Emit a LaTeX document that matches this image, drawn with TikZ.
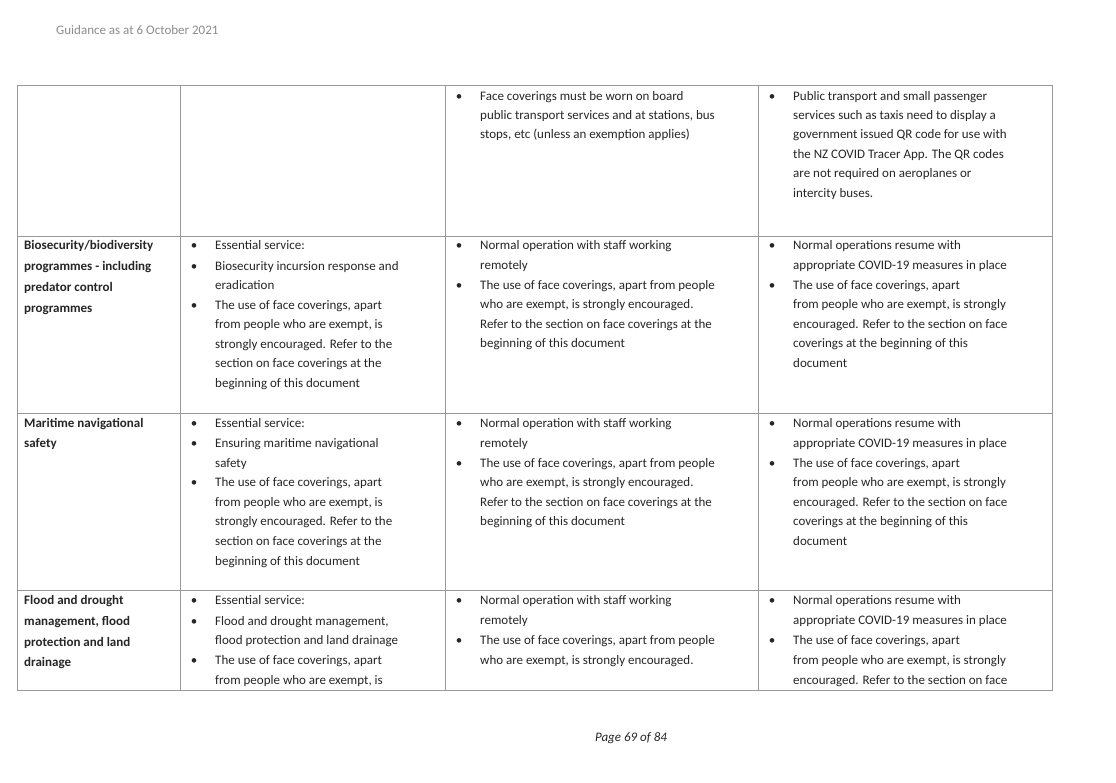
\documentclass[tikz,border=0pt]{standalone}
\usepackage{fontspec}
\setmainfont{Carlito}
\newcommand{\Lx}[3]{\node[anchor=base west,inner sep=0pt] at (#1,#2+4.5) {#3};}
\newcommand{\Bx}[2]{\node[anchor=base,inner sep=0pt] at (#1,#2+4.5) {•};}
\begin{document}
\begin{tikzpicture}[x=1pt,y=-1pt,font=\fontsize{13}{15}\selectfont,text=black!85]
\useasboundingbox (0,0) rectangle (1116,782);
\fill[white] (0,0) rectangle (1116,782);
\tikzset{grid/.style={draw=black!40,line width=0.8pt}}
% table grid
\draw[grid] (17,85) rectangle (1052,690);
\foreach \yy in {236,413,590} \draw[grid] (17,\yy) -- (1052,\yy);
\foreach \xx in {180,445,758} \draw[grid] (\xx,85) -- (\xx,690);
% header/footer
\node[anchor=base west,inner sep=0pt,text=black!45] (hdr) at (56,34.5) {Guidance as at 6 October 2021};
\node[anchor=base,inner sep=0pt,font=\fontsize{13}{15}\selectfont\itshape] (ftr) at (631,741.5) {Page 69 of 84};
% Row 1
\Bx{459}{96}
\Lx{480}{96}{Face coverings must be worn on board}
\Lx{480}{115}{public transport services and at stations, bus}
\Lx{480}{134}{stops, etc (unless an exemption applies)}
\Bx{772}{96}
\Lx{793}{96}{Public transport and small passenger}
\Lx{793}{115}{services such as taxis need to display a}
\Lx{793}{134}{government issued QR code for use with}
\Lx{793}{154}{the NZ COVID Tracer App. The QR codes}
\Lx{793}{173}{are not required on aeroplanes or}
\Lx{793}{193}{intercity buses.}
% Row 2
\begin{scope}[font=\fontsize{13}{15}\selectfont\bfseries]
\Lx{24}{245}{Biosecurity/biodiversity}
\Lx{24}{266}{programmes - including}
\Lx{24}{287}{predator control}
\Lx{24}{308}{programmes}
\end{scope}
\Bx{194}{245}\Lx{215}{245}{Essential service:}
\Bx{194}{266}\Lx{215}{266}{Biosecurity incursion response and}
\Lx{215}{285}{eradication}
\Bx{194}{305}\Lx{215}{305}{The use of face coverings, apart}
\Lx{215}{324}{from people who are exempt, is}
\Lx{215}{344}{strongly encouraged. Refer to the}
\Lx{215}{363}{section on face coverings at the}
\Lx{215}{383}{beginning of this document}
\Bx{459}{245}\Lx{480}{245}{Normal operation with staff working}
\Lx{480}{265}{remotely}
\Bx{459}{285}\Lx{480}{285}{The use of face coverings, apart from people}
\Lx{480}{304}{who are exempt, is strongly encouraged.}
\Lx{480}{324}{Refer to the section on face coverings at the}
\Lx{480}{343}{beginning of this document}
\Bx{772}{245}\Lx{793}{245}{Normal operations resume with}
\Lx{793}{265}{appropriate COVID-19 measures in place}
\Bx{772}{285}\Lx{793}{285}{The use of face coverings, apart}
\Lx{793}{304}{from people who are exempt, is strongly}
\Lx{793}{324}{encouraged. Refer to the section on face}
\Lx{793}{343}{coverings at the beginning of this}
\Lx{793}{363}{document}
% Row 3
\begin{scope}[font=\fontsize{13}{15}\selectfont\bfseries]
\Lx{24}{423}{Maritime navigational}
\Lx{24}{443}{safety}
\end{scope}
\Bx{194}{423}\Lx{215}{423}{Essential service:}
\Bx{194}{443}\Lx{215}{443}{Ensuring maritime navigational}
\Lx{215}{463}{safety}
\Bx{194}{482}\Lx{215}{482}{The use of face coverings, apart}
\Lx{215}{502}{from people who are exempt, is}
\Lx{215}{521}{strongly encouraged. Refer to the}
\Lx{215}{541}{section on face coverings at the}
\Lx{215}{561}{beginning of this document}
\Bx{459}{423}\Lx{480}{423}{Normal operation with staff working}
\Lx{480}{443}{remotely}
\Bx{459}{463}\Lx{480}{463}{The use of face coverings, apart from people}
\Lx{480}{482}{who are exempt, is strongly encouraged.}
\Lx{480}{502}{Refer to the section on face coverings at the}
\Lx{480}{521}{beginning of this document}
\Bx{772}{423}\Lx{793}{423}{Normal operations resume with}
\Lx{793}{443}{appropriate COVID-19 measures in place}
\Bx{772}{463}\Lx{793}{463}{The use of face coverings, apart}
\Lx{793}{482}{from people who are exempt, is strongly}
\Lx{793}{502}{encouraged. Refer to the section on face}
\Lx{793}{521}{coverings at the beginning of this}
\Lx{793}{541}{document}
% Row 4
\begin{scope}[font=\fontsize{13}{15}\selectfont\bfseries]
\Lx{24}{600}{Flood and drought}
\Lx{24}{621}{management, flood}
\Lx{24}{642}{protection and land}
\Lx{24}{662}{drainage}
\end{scope}
\Bx{194}{600}\Lx{215}{600}{Essential service:}
\Bx{194}{621}\Lx{215}{621}{Flood and drought management,}
\Lx{215}{640}{flood protection and land drainage}
\Bx{194}{660}\Lx{215}{660}{The use of face coverings, apart}
\Lx{215}{680}{from people who are exempt, is}
\Bx{459}{600}\Lx{480}{600}{Normal operation with staff working}
\Lx{480}{620}{remotely}
\Bx{459}{640}\Lx{480}{640}{The use of face coverings, apart from people}
\Lx{480}{660}{who are exempt, is strongly encouraged.}
\Bx{772}{600}\Lx{793}{600}{Normal operations resume with}
\Lx{793}{620}{appropriate COVID-19 measures in place}
\Bx{772}{640}\Lx{793}{640}{The use of face coverings, apart}
\Lx{793}{660}{from people who are exempt, is strongly}
\Lx{793}{680}{encouraged. Refer to the section on face}
\end{tikzpicture}
\end{document}
